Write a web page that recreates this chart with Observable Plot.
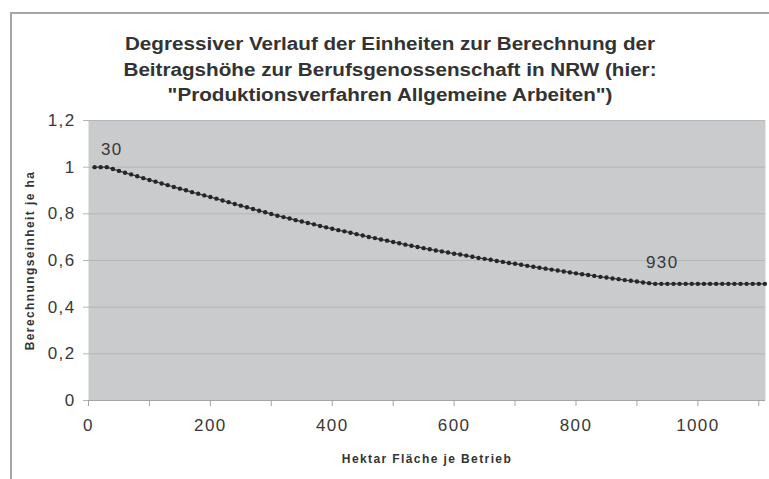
<!DOCTYPE html>
<html>
<head>
<meta charset="utf-8">
<script src="https://cdn.jsdelivr.net/npm/d3@7"></script>
<script src="https://cdn.jsdelivr.net/npm/@observablehq/plot@0.6"></script>
<style>
html,body{margin:0;padding:0;background:#fff;}
#wrap{position:relative;width:769px;height:479px;overflow:hidden;font-family:"Liberation Sans",Arial,sans-serif;}
#frame{position:absolute;left:10px;top:12px;width:820px;height:520px;border-left:2px solid #a6a6a6;border-top:2px solid #a6a6a6;}
#title{position:relative;height:108px;box-sizing:border-box;padding-top:32px;}
#title .t{width:769px;box-sizing:border-box;padding-left:11px;text-align:center;font-weight:bold;font-size:18px;line-height:25.5px;color:#333;transform:scaleX(1.147);transform-origin:390px 0;}
#chart{position:relative;}
#chart svg text{letter-spacing:1.4px;}
</style>
</head>
<body>
<div id="wrap">
  <div id="frame"></div>
  <div id="title"><div class="t">Degressiver Verlauf der Einheiten zur Berechnung der<br>Beitragshöhe zur Berufsgenossenschaft in NRW (hier:<br>"Produktionsverfahren Allgemeine Arbeiten")</div></div>
  <div id="chart"></div>
</div>
<script>
// Hektar Fläche je Betrieb
const hektar = [10,20,30,40,50,60,70,80,90,100,110,120,130,140,150,160,170,180,190,200,
  210,220,230,240,250,260,270,280,290,300,310,320,330,340,350,360,370,380,390,400,
  410,420,430,440,450,460,470,480,490,500,510,520,530,540,550,560,570,580,590,600,
  610,620,630,640,650,660,670,680,690,700,710,720,730,740,750,760,770,780,790,800,
  810,820,830,840,850,860,870,880,890,900,910,920,930,940,950,960,970,980,990,1000,
  1010,1020,1030,1040,1050,1060,1070,1080,1090,1100,1110];
// Berechnungseinheit je ha
const einheit = [1.000,1.000,1.000,0.992,0.984,0.976,0.969,0.961,0.953,0.945,0.938,0.930,0.923,0.915,0.908,0.901,0.893,0.886,0.879,0.872,
  0.865,0.857,0.850,0.842,0.835,0.828,0.821,0.813,0.807,0.799,0.792,0.786,0.780,0.773,0.767,0.761,0.755,0.748,0.742,0.736,
  0.730,0.725,0.719,0.713,0.707,0.701,0.696,0.690,0.685,0.679,0.674,0.668,0.663,0.658,0.653,0.648,0.643,0.639,0.634,0.629,
  0.626,0.621,0.616,0.611,0.607,0.603,0.598,0.594,0.589,0.586,0.582,0.577,0.573,0.569,0.565,0.561,0.557,0.553,0.549,0.545,
  0.541,0.538,0.534,0.530,0.527,0.523,0.520,0.516,0.513,0.510,0.506,0.503,0.500,0.500,0.500,0.500,0.500,0.500,0.500,0.500,
  0.500,0.500,0.500,0.500,0.500,0.500,0.500,0.500,0.500,0.500,0.500];
const labelledHektar = [30, 930];
const yTicks = [0, 0.2, 0.4, 0.6, 0.8, 1, 1.2];
const xLabelTicks = [0, 200, 400, 600, 800, 1000];
const xMinorTicks = [0,100,200,300,400,500,600,700,800,900,1000,1100];
const xTitle = "Hektar Fläche je Betrieb";
const yTitle = "Berechnungseinheit je ha";

const data = hektar.map((h, i) => ({ha: h, v: einheit[i]}));
const lab1 = data.filter(d => d.ha === labelledHektar[0]);
const lab2 = data.filter(d => d.ha === labelledHektar[1]);

const plot = Plot.plot({
  width: 769, height: 371,
  marginLeft: 88, marginRight: 4, marginTop: 12, marginBottom: 79,
  style: {fontFamily: "Liberation Sans, Arial, sans-serif", background: "transparent", overflow: "visible"},
  x: {domain: [0, 1111], axis: null},
  y: {domain: [0, 1.2], axis: null},
  marks: [
    Plot.frame({fill: "#c9cbcc"}),
    Plot.gridY(yTicks, {stroke: "#b4b6b7", strokeOpacity: 1}),
    Plot.axisY(yTicks, {tickSize: 5, tickPadding: 8, tickFormat: d => String(d).replace(".", ","), fontSize: 17, stroke: "#b4b6b7", fill: "#383838", label: null}),
    Plot.ruleY([0], {stroke: "#a2a4a5"}),
    Plot.axisX(xMinorTicks, {tickSize: 6, tickFormat: () => "", stroke: "#a2a4a5", label: null}),
    Plot.axisX(xLabelTicks, {tickSize: 0, tickPadding: 18.5, tickFormat: d => String(d), fontSize: 17, fill: "#383838", label: null}),
    Plot.line(data, {x: "ha", y: "v", stroke: "#3a3a3a", strokeWidth: 1.3}),
    Plot.dot(data, {x: "ha", y: "v", r: 2.2, fill: "#262626", stroke: "none"}),
    Plot.text(lab1, {x: "ha", y: "v", text: d => String(d.ha), dx: 5, dy: -18, fontSize: 17, fill: "#383838"}),
    Plot.text(lab2, {x: "ha", y: "v", text: d => String(d.ha), dx: 7, dy: -21, fontSize: 17, fill: "#383838"}),
    Plot.text([xTitle], {frameAnchor: "bottom", dy: 62, fontSize: 12, fontWeight: "bold", fill: "#333"}),
    Plot.text([yTitle], {frameAnchor: "left", textAnchor: "middle", dx: -58, rotate: -90, fontSize: 12, fontWeight: "bold", fill: "#333"})
  ]
});
document.getElementById("chart").appendChild(plot);
</script>
</body>
</html>
